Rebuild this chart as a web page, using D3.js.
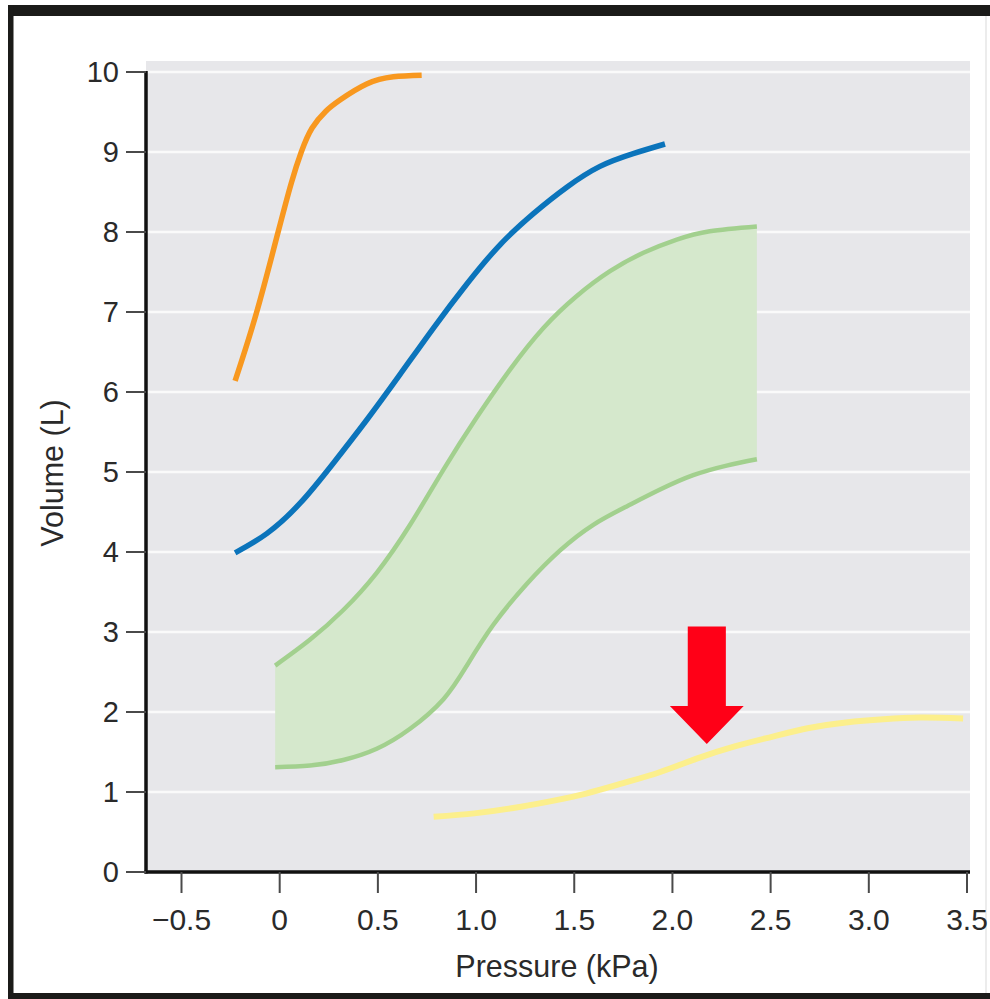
<!DOCTYPE html>
<html>
<head>
<meta charset="utf-8">
<script src="https://cdn.jsdelivr.net/npm/d3@7"></script>
<style>
  html, body { margin: 0; padding: 0; background: #ffffff; }
  svg { display: block; }
  text { font-family: "Liberation Sans", Arial, Helvetica, sans-serif; fill: #2a2a2a; }
</style>
</head>
<body>
<script>
// ---------------- data ----------------
const xTicks = [-0.5, 0, 0.5, 1.0, 1.5, 2.0, 2.5, 3.0, 3.5];
const xTickLabels = ["\u22120.5", "0", "0.5", "1.0", "1.5", "2.0", "2.5", "3.0", "3.5"];
const yTicks = [0, 1, 2, 3, 4, 5, 6, 7, 8, 9, 10];
const yTickLabels = ["0", "1", "2", "3", "4", "5", "6", "7", "8", "9", "10"];
const xTitle = "Pressure (kPa)";
const yTitle = "Volume (L)";

// orange curve
const orangeX = [-0.227, -0.117, -0.008, 0.06, 0.11, 0.165, 0.235, 0.307, 0.443, 0.579, 0.723];
const orangeY = [6.14, 7.0, 8.0, 8.62, 9.0, 9.3, 9.51, 9.65, 9.85, 9.94, 9.96];

// blue curve
const blueX = [-0.227, -0.066, 0.104, 0.273, 0.443, 0.613, 0.783, 0.953, 1.122, 1.292, 1.462, 1.631, 1.80, 1.962];
const blueY = [3.99, 4.23, 4.61, 5.11, 5.65, 6.22, 6.80, 7.35, 7.84, 8.23, 8.56, 8.82, 8.98, 9.10];

// green band: upper and lower edges
const greenUpperX = [-0.023, 0.155, 0.324, 0.494, 0.664, 0.834, 1.003, 1.173, 1.343, 1.513, 1.682, 1.852, 2.022, 2.19, 2.43];
const greenUpperY = [2.58, 2.905, 3.275, 3.74, 4.34, 5.03, 5.68, 6.28, 6.80, 7.20, 7.51, 7.74, 7.905, 8.01, 8.07];
const greenLowerX = [-0.023, 0.155, 0.324, 0.494, 0.664, 0.834, 0.953, 1.088, 1.258, 1.428, 1.597, 1.767, 1.937, 2.106, 2.276, 2.43];
const greenLowerY = [1.31, 1.33, 1.40, 1.54, 1.79, 2.16, 2.58, 3.09, 3.60, 4.02, 4.34, 4.57, 4.78, 4.96, 5.08, 5.16];

// yellow curve
const yellowX = [0.784, 0.991, 1.181, 1.37, 1.56, 1.749, 1.938, 2.127, 2.317, 2.506, 2.695, 2.884, 3.074, 3.263, 3.48];
const yellowY = [0.69, 0.733, 0.796, 0.88, 0.98, 1.11, 1.25, 1.42, 1.57, 1.69, 1.80, 1.87, 1.91, 1.93, 1.92];

// red arrow annotation (data units)
const arrowX = [2.175];          // centre x
const arrowTipY = [1.6];         // tip
const arrowHeadBaseY = [2.075];  // where head meets shaft
const arrowTopY = [3.07];        // top of shaft
const arrowShaftHalf = [0.097];  // half width of shaft (x units)
const arrowHeadHalf = [0.188];   // half width of head (x units)

// ---------------- layout ----------------
const W = 990, H = 999;
const plotLeft = 146, plotRight = 970, plotTop = 61, plotBottom = 872;

const svg = d3.select("body").append("svg").attr("width", W).attr("height", H);

const x = d3.scaleLinear().domain([-0.5, 3.5]).range([181.5, 967]);
const y = d3.scaleLinear().domain([0, 10]).range([872, 72]);

// outer frame
svg.append("rect").attr("x", 8).attr("y", 5).attr("width", W - 8).attr("height", 11).attr("fill", "#1b1b19");
svg.append("rect").attr("x", 8).attr("y", 5).attr("width", 5.5).attr("height", H - 5).attr("fill", "#1b1b19");
svg.append("rect").attr("x", 8).attr("y", 993).attr("width", W - 8).attr("height", 6).attr("fill", "#1b1b19");
svg.append("rect").attr("x", 985).attr("y", 16).attr("width", 2).attr("height", 977).attr("fill", "#ececec");

// plot background
svg.append("rect")
  .attr("x", plotLeft).attr("y", plotTop)
  .attr("width", plotRight - plotLeft).attr("height", plotBottom - plotTop)
  .attr("fill", "#e7e7ea");

// gridlines
svg.append("g").selectAll("line")
  .data(yTicks.filter(d => d > 0))
  .join("line")
  .attr("x1", plotLeft).attr("x2", plotRight)
  .attr("y1", d => y(d)).attr("y2", d => y(d))
  .attr("stroke", "#fafafa").attr("stroke-width", 2.5);

const lineGen = d3.line().x(d => x(d[0])).y(d => y(d[1])).curve(d3.curveNatural);

// green band
const upperPts = greenUpperX.map((v, i) => [v, greenUpperY[i]]);
const lowerPts = greenLowerX.map((v, i) => [v, greenLowerY[i]]);
const upperD = lineGen(upperPts);
const lowerRevD = lineGen(lowerPts.slice().reverse());
svg.append("path")
  .attr("d", upperD + "L" + lowerRevD.slice(1) + "Z")
  .attr("fill", "#d5e8cc")
  .attr("stroke", "none");
svg.append("path").attr("d", upperD)
  .attr("fill", "none").attr("stroke", "#a2d08e").attr("stroke-width", 4.5);
svg.append("path").attr("d", lineGen(lowerPts))
  .attr("fill", "none").attr("stroke", "#a2d08e").attr("stroke-width", 4.5);

// curves
function drawCurve(xs, ys, color, w) {
  svg.append("path")
    .attr("d", lineGen(xs.map((v, i) => [v, ys[i]])))
    .attr("fill", "none")
    .attr("stroke", color)
    .attr("stroke-width", w)
    .attr("stroke-linecap", "butt");
}
drawCurve(yellowX, yellowY, "#fcef8c", 6);
drawCurve(orangeX, orangeY, "#f8981f", 5.5);
drawCurve(blueX, blueY, "#0b74bb", 5.5);

// red arrow
const ax = arrowX[0];
const arrowPts = [
  [ax - arrowShaftHalf[0], arrowTopY[0]],
  [ax + arrowShaftHalf[0], arrowTopY[0]],
  [ax + arrowShaftHalf[0], arrowHeadBaseY[0]],
  [ax + arrowHeadHalf[0], arrowHeadBaseY[0]],
  [ax, arrowTipY[0]],
  [ax - arrowHeadHalf[0], arrowHeadBaseY[0]],
  [ax - arrowShaftHalf[0], arrowHeadBaseY[0]]
];
svg.append("path")
  .attr("d", d3.line().x(d => x(d[0])).y(d => y(d[1])).curve(d3.curveLinear)(arrowPts) + "Z")
  .attr("fill", "#ff0017");

// axes lines
svg.append("line").attr("x1", plotLeft).attr("x2", plotLeft).attr("y1", y(10) - 1).attr("y2", plotBottom + 1.5)
  .attr("stroke", "#111").attr("stroke-width", 3.5);
svg.append("line").attr("x1", plotLeft - 1.5).attr("x2", plotRight).attr("y1", plotBottom).attr("y2", plotBottom)
  .attr("stroke", "#111").attr("stroke-width", 3.5);

// y ticks
const yAxisG = svg.append("g");
yAxisG.selectAll("line").data(yTicks).join("line")
  .attr("x1", 126).attr("x2", plotLeft)
  .attr("y1", d => y(d)).attr("y2", d => y(d))
  .attr("stroke", "#4a4a4a").attr("stroke-width", 2);
yAxisG.selectAll("text").data(yTicks).join("text")
  .attr("x", 119).attr("y", d => y(d)).attr("dy", "0.36em")
  .attr("text-anchor", "end")
  .attr("font-size", 29)
  .text((d, i) => yTickLabels[i]);

// x ticks
const xAxisG = svg.append("g");
xAxisG.selectAll("line").data(xTicks).join("line")
  .attr("x1", d => x(d)).attr("x2", d => x(d))
  .attr("y1", plotBottom).attr("y2", 893)
  .attr("stroke", "#4a4a4a").attr("stroke-width", 2);
xAxisG.selectAll("text").data(xTicks).join("text")
  .attr("x", d => x(d)).attr("y", 930)
  .attr("text-anchor", "middle")
  .attr("font-size", 30)
  .text((d, i) => xTickLabels[i]);

// axis titles
svg.append("text")
  .attr("x", 557).attr("y", 977)
  .attr("text-anchor", "middle")
  .attr("font-size", 30.5)
  .text(xTitle);
svg.append("text")
  .attr("transform", "translate(63,473) rotate(-90)")
  .attr("text-anchor", "middle")
  .attr("font-size", 30.5)
  .text(yTitle);
</script>
</body>
</html>
